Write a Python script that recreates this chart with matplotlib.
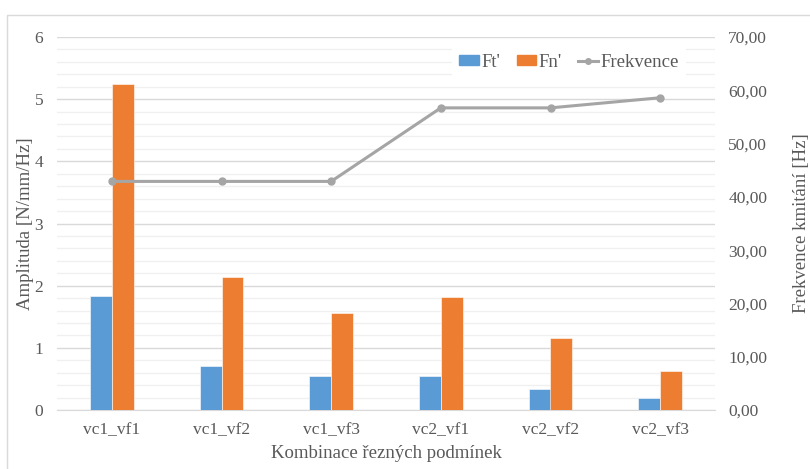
import numpy as np
import matplotlib.pyplot as plt
from matplotlib.patches import Rectangle
from matplotlib.lines import Line2D
from matplotlib.ticker import MultipleLocator, FuncFormatter

plt.rcParams['font.family'] = ['Liberation Serif', 'DejaVu Serif']

categories = ['vc1_vf1', 'vc1_vf2', 'vc1_vf3', 'vc2_vf1', 'vc2_vf2', 'vc2_vf3']
ft = [1.84, 0.71, 0.55, 0.54, 0.34, 0.19]
fn = [5.25, 2.14, 1.56, 1.81, 1.16, 0.63]
frekvence = [42.9, 42.9, 42.9, 56.7, 56.7, 58.6]

text_col = '#595959'
blue = '#5b9bd5'
orange = '#ed7d31'
grey = '#a5a5a5'

fig = plt.figure(figsize=(8.1, 4.69), dpi=100)
ax = fig.add_axes([57 / 810, 59 / 469, 658 / 810, 373 / 469])
ax2 = ax.twinx()

# light outer frame of the chart area
fig.patches.append(Rectangle((7 / 810, -0.1), 1.2, (469 - 15) / 469 + 0.1,
                             transform=fig.transFigure, fill=False,
                             edgecolor='#d9d9d9', linewidth=1.0))

x = np.arange(len(categories))
w = 0.2
ax.bar(x - w / 2, ft, w, color=blue, edgecolor='white', linewidth=0.4, zorder=3)
ax.bar(x + w / 2, fn, w, color=orange, edgecolor='white', linewidth=0.4, zorder=3)

ax.set_xlim(-0.5, len(categories) - 0.5)
ax.set_ylim(0, 6)
ax.yaxis.set_major_locator(MultipleLocator(1))
ax.yaxis.set_minor_locator(MultipleLocator(0.2))
ax.grid(axis='y', which='major', color='#d9d9d9', linewidth=1.0, zorder=0)
ax.grid(axis='y', which='minor', color='#f0f0f0', linewidth=1.0, zorder=0)
ax.set_axisbelow(True)

ax2.plot(x, frekvence, color=grey, linewidth=2.2, marker='o', markersize=5, zorder=4)
ax2.set_ylim(0, 70)
ax2.yaxis.set_major_locator(MultipleLocator(10))
ax2.yaxis.set_major_formatter(FuncFormatter(lambda v, p: f'{v:.2f}'.replace('.', ',')))

for a in (ax, ax2):
    for s in a.spines.values():
        s.set_visible(False)
    a.tick_params(length=0, colors=text_col, labelsize=12.5)
    a.tick_params(which='minor', length=0)
ax.spines['bottom'].set_visible(True)
ax.spines['bottom'].set_color('#d9d9d9')
ax.set_xticks(x)
ax.set_xticklabels(categories)
ax.tick_params(axis='x', pad=9)
ax.tick_params(axis='y', pad=10)
ax2.tick_params(axis='y', pad=9.5)

ax.set_xlabel('Kombinace řezných podmínek', color=text_col, fontsize=13.5, labelpad=5)
ax.set_ylabel('Amplituda [N/mm/Hz]', color=text_col, fontsize=13.5)
ax2.set_ylabel('Frekvence kmitání [Hz]', color=text_col, fontsize=13.5)
ax.yaxis.set_label_coords(-0.035, 0.5)
ax2.yaxis.set_label_coords(1.118, 0.5)

handles = [
    Rectangle((0, 0), 1, 1, color=blue),
    Rectangle((0, 0), 1, 1, color=orange),
    Line2D([0], [0], color=grey, linewidth=2.2, marker='o', markersize=4),
]
leg = ax2.legend(handles, ["Ft'", "Fn'", 'Frekvence'], ncol=3, loc='upper right',
                 bbox_to_anchor=(0.97, 1.0), frameon=True, fontsize=13.5,
                 handlelength=1.05, handleheight=0.45, handletextpad=0.1,
                 columnspacing=0.9, borderpad=0.4)
leg.get_frame().set_facecolor('white')
leg.get_frame().set_edgecolor('none')
leg.get_frame().set_alpha(1)
for t in leg.get_texts():
    t.set_color(text_col)

fig.savefig('out.png', dpi=100)
